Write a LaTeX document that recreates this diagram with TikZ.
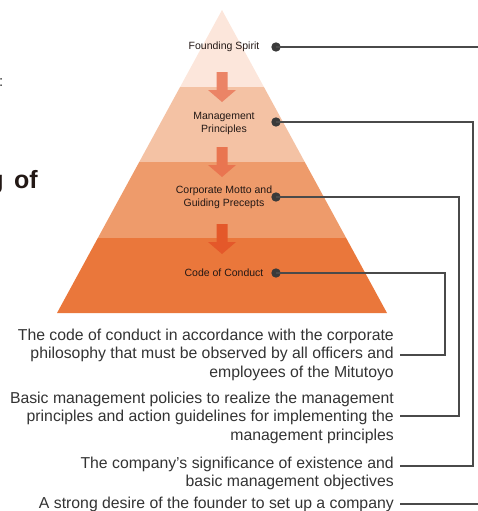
\documentclass[tikz,border=0pt]{standalone}
\usepackage{fontspec}
\setmainfont{Liberation Sans}
\definecolor{bandA}{HTML}{FCE6DB}
\definecolor{bandB}{HTML}{F4C2A4}
\definecolor{bandC}{HTML}{EE9B6B}
\definecolor{bandD}{HTML}{EA773B}
\definecolor{arrA}{HTML}{EB8466}
\definecolor{arrB}{HTML}{E97550}
\definecolor{arrC}{HTML}{E4582A}
\definecolor{labelc}{HTML}{231815}
\definecolor{descc}{HTML}{333333}
\definecolor{linec}{HTML}{4A4A4A}
\definecolor{dotc}{HTML}{3A3A3A}
\newcommand\pyrarrow[2]{%
  \fill[#2] (216.5,#1) -- (227.5,#1) -- (227.5,#1+18) -- (236,#1+18) -- (222,#1+30) -- (208,#1+18) -- (216.5,#1+18) -- cycle;}
\begin{document}
\begin{tikzpicture}[x=1pt,y=-1pt,
  lbl/.style={font=\fontsize{10.5}{13}\selectfont, text=labelc, align=center, inner sep=0},
  desc/.style={font=\fontsize{15.8}{18.5}\selectfont, text=descc, align=right, inner sep=0, anchor=base east},
  dotnode/.style={circle, fill=dotc, minimum size=9.4pt, inner sep=0},
  conn/.style={draw=linec, line width=1.3pt}]
\useasboundingbox (0,0) rectangle (477,511);
% pyramid
\coordinate (apex) at (222,10);
\coordinate (bl) at (57,313);
\coordinate (br) at (387,313);
\begin{scope}
\clip (apex) -- (bl) -- (br) -- cycle;
\fill[bandA] (40,0) rectangle (400,87);
\fill[bandB] (40,87) rectangle (400,162);
\fill[bandC] (40,162) rectangle (400,238);
\fill[bandD] (40,238) rectangle (400,320);
\end{scope}
\pyrarrow{72}{arrA}
\pyrarrow{147}{arrB}
\pyrarrow{224}{arrC}
% labels
\node[lbl] (fs) at (224,47) {Founding Spirit};
\node[lbl] (mp) at (224,123) {Management\\Principles};
\node[lbl] (cm) at (224,197) {Corporate Motto and\\Guiding Precepts};
\node[lbl] (cc) at (224,273) {Code of Conduct};
% descriptions
\node[desc] (t1) at (394,377) {The code of conduct in accordance with the corporate\\philosophy that must be observed by all officers and\\employees of the Mitutoyo};
\node[desc] (t2) at (394,440) {Basic management policies to realize the management\\principles and action guidelines for implementing the\\management principles};
\node[desc] (t3) at (394,486.5) {The company’s significance of existence and\\basic management objectives};
\node[desc] (t4) at (394,508.5) {A strong desire of the founder to set up a company};
% title fragments
\node[font=\fontsize{25}{28}\selectfont\bfseries, text=labelc, anchor=base east, inner sep=0] (title) at (38,188) {g\kern3.5pt\ of};
\node[font=\fontsize{15}{18}\selectfont, text=descc, anchor=base east, inner sep=0] (colon) at (3.5,86) {:};
% connector ends
\coordinate (e1) at (400,355);
\coordinate (e2) at (400,416);
\coordinate (e3) at (400,466);
\coordinate (e4) at (400,504);
\coordinate (r1) at (478,47);
\coordinate (r4) at (478,504);
\coordinate (k2) at (473,466);
\coordinate (k3) at (459,416);
\coordinate (k4) at (445,355);
% dots
\node[dotnode] (d1) at (276,47) {};
\node[dotnode] (d2) at (276,122) {};
\node[dotnode] (d3) at (276,197) {};
\node[dotnode] (d4) at (276,273) {};
% connectors
\draw[conn] (d1.center) -- (r1);
\draw[conn] (d2.center) -| (k2) -- (e3);
\draw[conn] (d3.center) -| (k3) -- (e2);
\draw[conn] (d4.center) -| (k4) -- (e1);
\draw[conn] (e4) -- (r4);
\end{tikzpicture}
\end{document}
